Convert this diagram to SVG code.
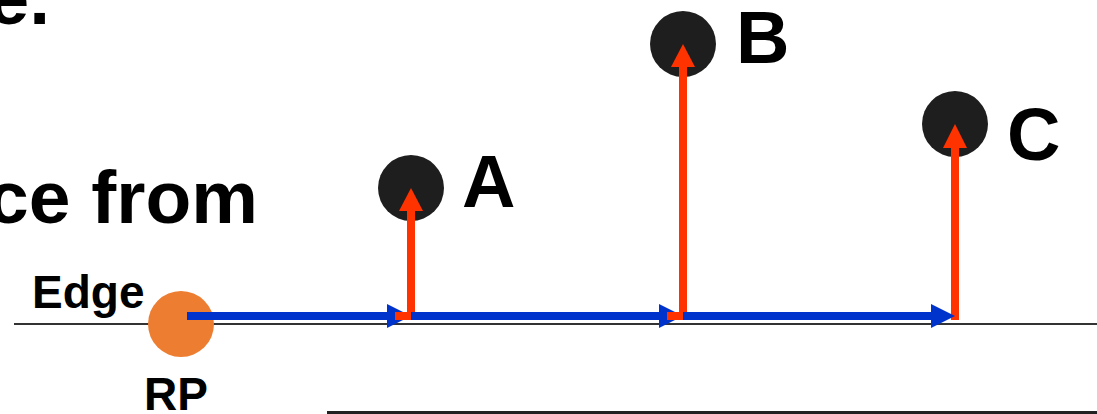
<svg xmlns="http://www.w3.org/2000/svg" width="1097" height="414" viewBox="0 0 1097 414">
<style>
  .t { font-family: "Liberation Sans", Arial, sans-serif; font-weight: bold; fill: #000; }
  .big { font-size: 75px; }
  .lbl { font-size: 74px; }
  .sm { font-size: 46px; }
  .pt { fill: #1e1e1e; }
  .blue { stroke: #0033cc; stroke-width: 8; fill: none; }
  .bhead { fill: #0033cc; }
  .red { stroke: #ff3300; stroke-width: 8; fill: none; }
  .rhead { fill: #ff3300; }
</style>
<rect width="1097" height="414" fill="#fff"/>
<g id="title">
  <text class="t big" x="50" y="24" text-anchor="end">e.</text>
  <text class="t big" x="-13" y="223">ce from</text>
</g>
<g id="edge-line">
  <line x1="14" y1="324" x2="1097" y2="324" stroke="#333" stroke-width="2"/>
  <line x1="327" y1="412.5" x2="1097" y2="412.5" stroke="#222" stroke-width="3"/>
  <text class="t sm" x="32" y="308">Edge</text>
</g>
<g id="RP">
  <circle cx="181" cy="324" r="33" fill="#ed7d31"/>
  <text class="t sm" x="144" y="410">RP</text>
</g>
<g id="A">
  <circle class="pt" cx="411" cy="188" r="33"/>
  <text class="t lbl" x="462" y="207">A</text>
</g>
<g id="B">
  <circle class="pt" cx="683" cy="44" r="33"/>
  <text class="t lbl" x="736" y="63">B</text>
</g>
<g id="C">
  <circle class="pt" cx="955" cy="124" r="33"/>
  <text class="t lbl" x="1007" y="160">C</text>
</g>
<g id="connectors">
  <line class="blue" x1="187" y1="316" x2="390" y2="316"/>
  <polygon class="bhead" points="387,304 411,316 387,328"/>
  <line class="blue" x1="411" y1="316" x2="662" y2="316"/>
  <polygon class="bhead" points="659,304 683,316 659,328"/>
  <line class="red" x1="955" y1="320" x2="955" y2="146"/>
  <line class="blue" x1="683" y1="316" x2="934" y2="316"/>
  <polygon class="bhead" points="931,304 955,316 931,328"/>
  <rect x="395" y="312" width="16" height="8" fill="#ff3300"/>
  <line class="red" x1="411" y1="312" x2="411" y2="210"/>
  <polygon class="rhead" points="399,211 411,188 423,211"/>
  <rect x="667" y="312" width="16" height="8" fill="#ff3300"/>
  <line class="red" x1="683" y1="312" x2="683" y2="65"/>
  <polygon class="rhead" points="671,67 683,44 695,67"/>
  <polygon class="rhead" points="943,148 955,124 967,148"/>
</g>
</svg>
